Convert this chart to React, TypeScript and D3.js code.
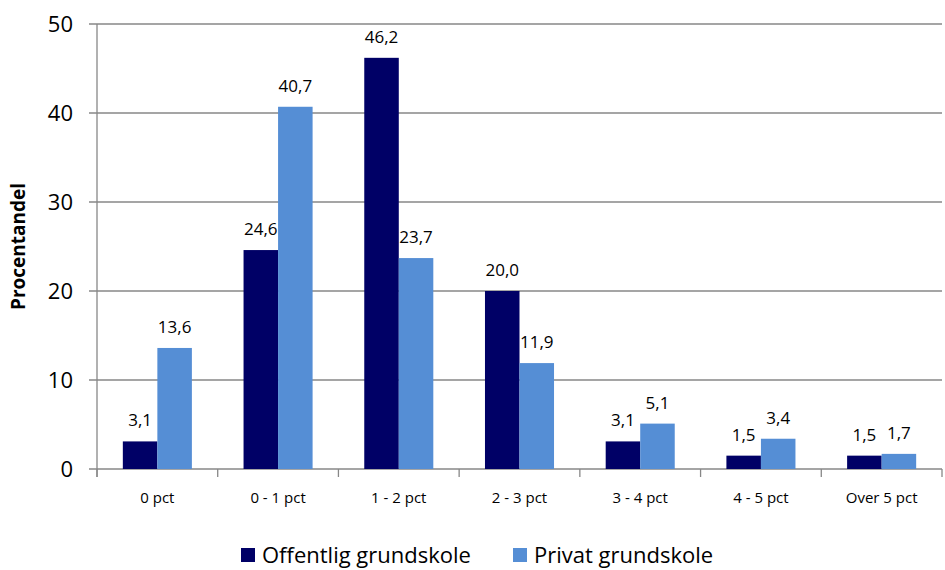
import React, { useRef, useEffect } from "react";
import * as d3 from "d3";

// kategorier og værdier (procent)
const categories = ["0 pct", "0 - 1 pct", "1 - 2 pct", "2 - 3 pct", "3 - 4 pct", "4 - 5 pct", "Over 5 pct"];
const offentlig = [3.1, 24.6, 46.2, 20.0, 3.1, 1.5, 1.5];
const privat = [13.6, 40.7, 23.7, 11.9, 5.1, 3.4, 1.7];
const seriesNames = ["Offentlig grundskole", "Privat grundskole"];
const seriesColors = ["#000066", "#558ED5"];
const yTicks = [0, 10, 20, 30, 40, 50];

const W = 945;
const H = 570;
const FONT = "Open Sans, Liberation Sans, sans-serif";

const App = () => {
  const ref = useRef<SVGSVGElement | null>(null);

  useEffect(() => {
    const svg = d3.select(ref.current);
    svg.selectAll("*").remove();

    const left = 97, right = 942, top = 24, bottom = 469;

    const x = d3.scaleBand().domain(categories).range([left, right]).paddingInner(0).paddingOuter(0);
    const y = d3.scaleLinear().domain([0, 50]).range([bottom, top]);
    const bw = x.bandwidth();
    const barW = bw * 0.286;

    // gitterlinjer
    svg.append("g")
      .selectAll("line")
      .data(yTicks)
      .join("line")
      .attr("x1", left - 8)
      .attr("x2", right)
      .attr("y1", (d) => y(d))
      .attr("y2", (d) => y(d))
      .attr("stroke", "#878787")
      .attr("stroke-width", 1.3);

    // y-akse linje
    svg.append("line")
      .attr("x1", left).attr("x2", left)
      .attr("y1", top).attr("y2", bottom + 8)
      .attr("stroke", "#878787").attr("stroke-width", 1.3);

    // x tick marks
    svg.append("g")
      .selectAll("line")
      .data(d3.range(categories.length + 1))
      .join("line")
      .attr("x1", (i) => left + i * bw)
      .attr("x2", (i) => left + i * bw)
      .attr("y1", bottom)
      .attr("y2", bottom + 8)
      .attr("stroke", "#878787").attr("stroke-width", 1.3);

    // y tick labels
    svg.append("g")
      .selectAll("text")
      .data(yTicks)
      .join("text")
      .attr("x", 73)
      .attr("y", (d) => y(d))
      .attr("dy", "0.35em")
      .attr("text-anchor", "end")
      .attr("font-family", FONT)
      .attr("font-size", 22)
      .attr("fill", "#000")
      .text((d) => d);

    // kategori labels
    svg.append("g")
      .selectAll("text")
      .data(categories)
      .join("text")
      .attr("x", (d) => (x(d) as number) + bw / 2)
      .attr("y", 503)
      .attr("text-anchor", "middle")
      .attr("font-family", FONT)
      .attr("font-size", 15)
      .attr("fill", "#000")
      .text((d) => d);

    // y-akse titel
    svg.append("text")
      .attr("transform", `translate(25, ${(top + bottom) / 2}) rotate(-90)`)
      .attr("text-anchor", "middle")
      .attr("font-family", FONT)
      .attr("font-size", 19)
      .attr("font-weight", "bold")
      .text("Procentandel");

    const fmt = (v: number) => v.toFixed(1).replace(".", ",");

    [offentlig, privat].forEach((vals, s) => {
      const xOff = (d: string) => (x(d) as number) + bw / 2 - barW + s * barW;
      svg.append("g")
        .selectAll("rect")
        .data(categories)
        .join("rect")
        .attr("x", (d) => xOff(d))
        .attr("y", (d, i) => y(vals[i]))
        .attr("width", barW)
        .attr("height", (d, i) => y(0) - y(vals[i]))
        .attr("fill", seriesColors[s]);

      svg.append("g")
        .selectAll("text")
        .data(categories)
        .join("text")
        .attr("x", (d) => xOff(d) + barW / 2)
        .attr("y", (d, i) => y(vals[i]) - 15)
        .attr("text-anchor", "middle")
        .attr("font-family", FONT)
        .attr("font-size", 17)
        .attr("fill", "#000")
        .text((d, i) => fmt(vals[i]));
    });

    // legende
    const legendX = [241, 513];
    const legend = svg.append("g")
      .selectAll("g")
      .data(seriesNames)
      .join("g")
      .attr("transform", (d, i) => `translate(${legendX[i]}, 548)`);
    legend.append("rect")
      .attr("width", 14).attr("height", 14)
      .attr("fill", (d, i) => seriesColors[i]);
    legend.append("text")
      .attr("x", 21)
      .attr("y", 7)
      .attr("dy", "0.35em")
      .attr("font-family", FONT)
      .attr("font-size", 22)
      .attr("fill", "#000")
      .text((d) => d);
  }, []);

  return (
    <svg
      ref={ref}
      width={W}
      height={H}
      style={{ position: "absolute", left: 0, top: 0, background: "#fff" }}
    />
  );
};

export default App;
